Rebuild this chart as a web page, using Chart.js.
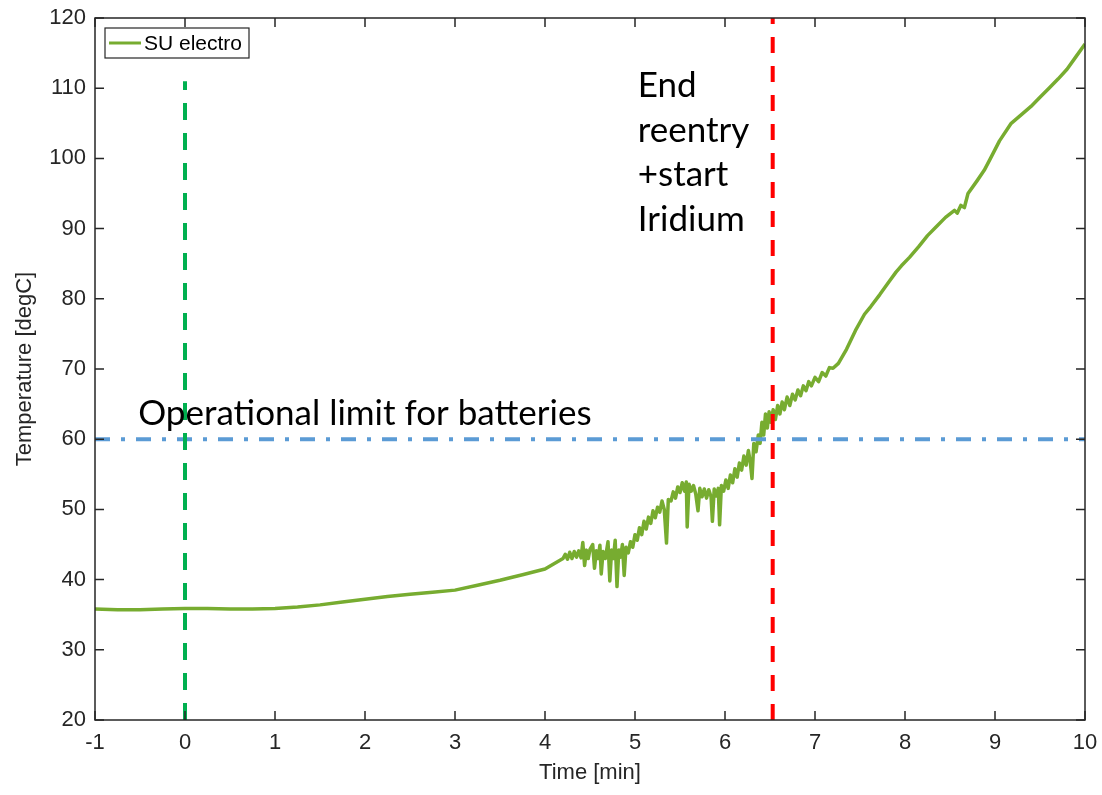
<!DOCTYPE html>
<html>
<head>
<meta charset="utf-8">
<script src="https://cdn.jsdelivr.net/npm/chart.js@4.4.1/dist/chart.umd.min.js"></script>
<style>
  body { margin: 0; background: #fff; }
  #wrap { width: 1102px; height: 795px; }
</style>
</head>
<body>
<div id="wrap"><canvas id="chart" width="1102" height="795"></canvas></div>
<script>
// Temperature curve
const timeMin = [
  -1, -0.75, -0.5, -0.25, 0, 0.25, 0.5, 0.75, 1, 1.25, 1.5, 1.75, 2, 2.25, 2.5, 2.75, 3, 3.25, 3.5, 3.75, 4,
  4.2, 4.225, 4.25, 4.275, 4.3, 4.325, 4.35, 4.375, 4.4, 4.42, 4.44, 4.46, 4.48, 4.5, 4.53, 4.55, 4.57, 4.59,
  4.61, 4.625, 4.645, 4.67, 4.7, 4.72, 4.74, 4.76, 4.78, 4.8, 4.82, 4.84, 4.86, 4.88, 4.9, 4.925, 4.95, 4.975,
  5.0, 5.025, 5.05, 5.075, 5.1, 5.125, 5.15, 5.175, 5.2, 5.225, 5.25, 5.275, 5.3, 5.325, 5.35, 5.37, 5.4,
  5.425, 5.45, 5.475, 5.5, 5.525, 5.55, 5.57, 5.58, 5.6, 5.625, 5.65, 5.675, 5.7, 5.72, 5.745, 5.77, 5.795,
  5.82, 5.845, 5.86, 5.88, 5.905, 5.925, 5.94, 5.96, 5.985, 6.01, 6.035, 6.06, 6.085, 6.11, 6.135, 6.16,
  6.185, 6.21, 6.235, 6.26, 6.28, 6.3, 6.32, 6.345, 6.37, 6.39, 6.41, 6.43, 6.45, 6.47, 6.49, 6.51, 6.535,
  6.56, 6.585, 6.61, 6.635, 6.66, 6.69, 6.72, 6.75, 6.78, 6.81, 6.84, 6.87, 6.9, 6.93, 6.96, 7.0, 7.04,
  7.08, 7.12, 7.16, 7.2, 7.26, 7.35, 7.45, 7.55, 7.62, 7.72, 7.82, 7.9, 7.96, 8.05, 8.15, 8.25, 8.35, 8.45,
  8.55, 8.58, 8.62, 8.66, 8.7, 8.8, 8.88, 8.95, 9.05, 9.18, 9.3, 9.4, 9.5, 9.6, 9.7, 9.8, 9.9, 10
];
const tempSU = [
  35.8, 35.7, 35.7, 35.8, 35.9, 35.9, 35.8, 35.8, 35.9, 36.1, 36.4, 36.8, 37.2, 37.6, 37.9, 38.2, 38.5, 39.2, 39.9, 40.7, 41.5,
  43.0, 43.6, 42.9, 43.9, 43.0, 44.0, 43.2, 44.1, 43.1, 45.3, 42.0, 44.2, 43.0, 44.3, 45.0, 41.6, 44.1, 43.0,
  44.9, 40.8, 44.0, 43.0, 45.4, 39.8, 44.2, 43.0, 45.6, 39.0, 44.2, 43.2, 45.0, 40.6, 44.6, 43.8, 45.4, 44.6,
  46.4, 45.6, 47.4, 46.4, 48.3, 47.2, 48.9, 48.0, 49.8, 48.8, 50.3, 49.6, 51.2, 50.0, 45.2, 51.4, 51.2,
  52.5, 51.6, 53.2, 52.4, 53.8, 52.6, 53.9, 47.5, 53.6, 52.6, 53.4, 52.2, 49.8, 53.0, 51.8, 52.9, 51.6,
  52.8, 51.8, 48.3, 52.9, 51.9, 53.0, 47.8, 53.4, 52.6, 54.2, 53.0, 54.9, 53.8, 55.8, 54.6, 56.6,
  55.6, 57.6, 56.3, 58.4, 56.8, 54.4, 59.4, 58.2, 60.6, 59.4, 62.4, 60.6, 63.6, 61.6, 63.9, 62.4, 64.2,
  62.8, 64.8, 63.6, 65.3, 64.2, 66.0, 64.8, 66.4, 65.6, 67.0, 66.2, 67.6, 66.9, 68.2, 67.6, 68.8, 68.2,
  69.5, 69.0, 70.2, 70.1, 70.8, 72.8, 75.5, 77.8, 78.9, 80.6, 82.4, 83.8, 84.7, 85.9, 87.4, 89.0, 90.3, 91.6,
  92.6, 92.2, 93.3, 93.0, 95.0, 96.8, 98.3, 100.0, 102.5, 105.0, 106.3, 107.4, 108.7, 110.0, 111.3, 112.7, 114.5, 116.3
];

// Reference lines
const batteryLimit = 60;          // degC, horizontal dash-dot
const startTime = 0;              // min, green dashed
const startLineTop = 111;         // degC, where the green line stops
const endReentryTime = 6.53;      // min, red dashed

const seriesLabel = 'SU electro';
const curveColor = '#77ac30';

const axisColor = '#262626';
const tickFont = { family: '"Liberation Sans", Arial, sans-serif', size: 22 };

// MATLAB style box + inward ticks, legend and text notes
const decorations = {
  id: 'decorations',
  afterDraw(chart) {
    const ctx = chart.ctx;
    const a = chart.chartArea;
    const xs = chart.scales.x, ys = chart.scales.y;
    ctx.save();
    ctx.strokeStyle = axisColor;
    ctx.lineWidth = 1.5;
    ctx.strokeRect(a.left, a.top, a.right - a.left, a.bottom - a.top);
    const tl = 9;
    ctx.beginPath();
    xs.ticks.forEach(t => {
      const p = xs.getPixelForValue(t.value);
      ctx.moveTo(p, a.bottom); ctx.lineTo(p, a.bottom - tl);
      ctx.moveTo(p, a.top); ctx.lineTo(p, a.top + tl);
    });
    ys.ticks.forEach(t => {
      const p = ys.getPixelForValue(t.value);
      ctx.moveTo(a.left, p); ctx.lineTo(a.left + tl, p);
      ctx.moveTo(a.right, p); ctx.lineTo(a.right - tl, p);
    });
    ctx.stroke();

    // legend box
    const lx = a.left + 10, ly = a.top + 10;
    ctx.fillStyle = '#fff';
    ctx.fillRect(lx, ly, 144, 30);
    ctx.lineWidth = 1.2;
    ctx.strokeRect(lx, ly, 144, 30);
    ctx.strokeStyle = curveColor;
    ctx.lineWidth = 3;
    ctx.beginPath();
    ctx.moveTo(lx + 4, ly + 15); ctx.lineTo(lx + 36, ly + 15);
    ctx.stroke();
    ctx.fillStyle = '#000';
    ctx.font = '21px "Liberation Sans", Arial, sans-serif';
    ctx.textBaseline = 'middle';
    ctx.fillText(seriesLabel, lx + 39, ly + 16);

    // notes
    ctx.font = '35px Lato, sans-serif';
    ctx.textBaseline = 'alphabetic';
    ctx.fillText('Operational limit for batteries', xs.getPixelForValue(-0.52), ys.getPixelForValue(batteryLimit) - 14);
    const nx = xs.getPixelForValue(5.03);
    const ny = ys.getPixelForValue(108.7);
    ['End', 'reentry', '+start', 'Iridium'].forEach((s, i) => ctx.fillText(s, nx, ny + i * 44.5));
    ctx.restore();
  }
};

new Chart(document.getElementById('chart').getContext('2d'), {
  type: 'line',
  data: {
    datasets: [
      {
        label: 'start',
        data: [{ x: startTime, y: 20 }, { x: startTime, y: startLineTop }],
        borderColor: '#00b050',
        borderWidth: 4,
        borderDash: [17, 13],
        pointRadius: 0
      },
      {
        label: 'end reentry',
        data: [{ x: endReentryTime, y: 20 }, { x: endReentryTime, y: 120 }],
        borderColor: '#ff0000',
        borderWidth: 4,
        borderDash: [16, 13],
        pointRadius: 0
      },
      {
        label: 'limit',
        data: [{ x: -1, y: batteryLimit }, { x: 10, y: batteryLimit }],
        borderColor: '#5b9bd5',
        borderWidth: 4,
        borderDash: [15, 11, 4, 11],
        pointRadius: 0
      },
      {
        label: seriesLabel,
        data: timeMin.map((t, i) => ({ x: t, y: tempSU[i] })),
        borderColor: curveColor,
        borderWidth: 3.5,
        borderJoinStyle: 'round',
        pointRadius: 0,
        tension: 0
      }
    ]
  },
  options: {
    responsive: false,
    animation: false,
    layout: { padding: { top: 18, right: 17, left: 0, bottom: 0 } },
    plugins: { legend: { display: false }, tooltip: { enabled: false } },
    scales: {
      x: {
        type: 'linear',
        min: -1, max: 10,
        afterFit(s) { s.height = 75; s.paddingLeft = 0; s.paddingRight = 0; },
        grid: { drawOnChartArea: false, drawTicks: false },
        border: { display: false },
        ticks: { stepSize: 1, color: axisColor, font: tickFont, padding: 10, maxRotation: 0, autoSkip: false },
        title: { display: true, text: 'Time [min]', color: axisColor, font: tickFont, padding: { top: 0, bottom: 9 } }
      },
      y: {
        min: 20, max: 120,
        afterFit(s) { s.width = 95; s.paddingTop = 0; s.paddingBottom = 0; },
        grid: { drawOnChartArea: false, drawTicks: false },
        border: { display: false },
        ticks: { stepSize: 10, color: axisColor, font: tickFont, padding: 9, autoSkip: false },
        title: { display: true, text: 'Temperature [degC]', color: axisColor, font: tickFont, padding: { top: 12, bottom: 0 } }
      }
    }
  },
  plugins: [decorations]
});
</script>
</body>
</html>
